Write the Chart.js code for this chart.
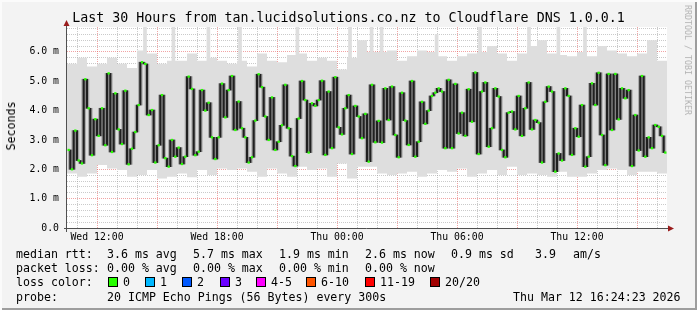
<!DOCTYPE html>
<html>
<head>
<meta charset="utf-8">
<script src="https://cdn.jsdelivr.net/npm/chart.js@4.4.1/dist/chart.umd.min.js"></script>
<style>
  body { margin: 0; background: #fff; }
  #frame {
    position: relative; width: 697px; height: 310px; overflow: hidden;
    background: #f3f3f3; color: #000;
    box-shadow: inset 2px 2px 0 #fbfbfb, inset -2px -2px 0 #9d9d9d;
    font-family: "DejaVu Sans Mono", monospace;
  }
  #chart { position: absolute; left: 0; top: 0; }
  .t { position: absolute; white-space: pre; font-size: 11.6px; line-height: 14px; }
  #title { position: absolute; left: 0; width: 697px; top: 10px; text-align: center; font-size: 13.3px; line-height: 16px; white-space: pre; }
  #ylabel { position: absolute; left: 11px; top: 126px; transform: translate(-50%, -50%) rotate(-90deg); font-size: 11.6px; white-space: pre; }
  #credit { position: absolute; left: 688px; top: 60px; transform: translate(-50%, -50%) rotate(90deg); font-size: 8.3px; color: #b3b3b3; white-space: pre; }
  .box { position: absolute; width: 8px; height: 8px; border: 1px solid #000; top: 277px; }
</style>
</head>
<body>
<div id="frame">
  <canvas id="chart" width="697" height="310"></canvas>
  <div id="title">Last 30 Hours from tan.lucidsolutions.co.nz to Cloudflare DNS 1.0.0.1</div>
  <div id="ylabel">Seconds</div>
  <div id="credit">RRDTOOL / TOBI OETIKER</div>
  <div id="legend"></div>
</div>
<script>
// median rtt (ms), one value per 10 minutes from Wed 10:30
const medianMs = [
  2.66, 2.0, 3.32, 2.30, 2.2, 5.07, 4.08, 2.48, 3.71, 3.14,
  4.08, 2.82, 5.27, 2.59, 4.59, 3.36, 2.86, 4.68, 2.17, 2.7,
  3.27, 4.19, 5.65, 5.59, 3.85, 4.02, 2.23, 2.82, 4.53, 2.38,
  2.09, 3.0, 2.43, 2.74, 2.18, 2.43, 5.16, 4.74, 2.48, 2.6,
  4.70, 4.0, 4.27, 3.09, 2.35, 3.09, 4.92, 3.77, 4.70, 5.18,
  3.34, 4.31, 3.4, 3.09, 2.23, 2.41, 3.66, 5.24, 4.8, 3.8,
  3.0, 4.45, 2.66, 2.94, 3.5, 4.88, 3.4, 2.45, 2.11, 3.73,
  5.01, 4.36, 2.57, 4.25, 4.16, 4.36, 5.02, 2.49, 4.65, 2.72,
  5.14, 3.43, 3.19, 4.08, 4.53, 2.52, 4.16, 3.8, 3.06, 3.89,
  2.26, 4.88, 2.92, 3.65, 2.91, 4.76, 3.68, 4.82, 3.17, 2.41,
  4.61, 3.66, 2.83, 5.01, 2.43, 2.94, 4.3, 3.55, 4.0, 4.5,
  4.61, 4.76, 4.65, 2.72, 5.05, 2.72, 4.91, 3.22, 3.93, 3.14,
  4.73, 3.62, 5.30, 2.52, 4.65, 4.96, 2.77, 3.40, 4.76, 4.48,
  2.66, 2.41, 3.93, 3.97, 3.36, 4.50, 3.14, 4.08, 4.96, 3.36,
  3.68, 3.59, 2.23, 4.30, 4.82, 4.65, 1.92, 2.54, 2.3, 4.76,
  4.5, 2.49, 3.40, 3.11, 4.19, 2.09, 2.43, 4.93, 4.19, 5.29,
  3.17, 2.14, 5.25, 3.34, 5.25, 3.7, 4.76, 4.42, 4.7, 2.11,
  3.85, 2.64, 5.18, 2.43, 3.09, 2.72, 3.51, 3.45, 3.14, 2.57
];

// smoke envelope per 30 minutes (ms)
const smokeLo = [
  1.86, 1.75, 1.86, 2.15, 2.03, 1.98, 1.75, 1.81, 1.98, 1.69,
  1.75, 1.86, 1.73, 1.98, 1.81, 2.03, 1.98, 2.03, 1.92, 1.75,
  2.03, 1.86, 1.75, 2.09, 1.98, 2.03, 1.75, 2.2, 1.69, 2.09,
  2.09, 1.86, 1.81, 1.86, 1.92, 1.75, 1.86, 1.98, 1.92, 2.03,
  1.75, 1.86, 1.98, 1.81, 2.09, 1.81, 1.86, 1.81, 1.75, 1.92,
  1.75, 1.75, 1.86, 1.98, 2.03, 1.98, 1.81, 1.92, 1.92, 1.86
];
const smokeHi = [
  5.6, 5.8, 5.5, 5.6, 5.8, 5.6, 5.45, 6.05, 5.95, 5.6,
  5.7, 5.7, 5.95, 5.7, 5.8, 5.7, 5.6, 5.7, 5.5, 5.95,
  5.7, 5.65, 5.9, 5.95, 5.7, 5.8, 5.7, 5.4, 5.8, 6.4,
  6.0, 6.0, 6.05, 5.7, 5.85, 6.05, 6.0, 5.85, 5.7, 5.85,
  5.95, 6.0, 6.2, 5.95, 5.7, 5.95, 6.2, 6.4, 5.95, 5.9,
  5.85, 6.0, 5.85, 6.2, 6.05, 5.95, 5.85, 5.95, 6.4, 5.7
];

// narrow smoke spikes (hours after Wed 10:30, top in ms)
const spikeHour = [3.9, 5.32, 7.07, 8.65, 11.52, 14.15, 15.23, 15.73, 18.48, 20.65, 23.1, 24.57, 25.9];
const spikeTop = [6.85, 6.85, 6.85, 6.85, 6.85, 6.85, 6.85, 6.85, 6.6, 6.85, 6.85, 6.85, 6.85];

const xTickHours = [1.5, 7.5, 13.5, 19.5, 25.5];
const xTickLabels = ["Wed 12:00", "Wed 18:00", "Thu 00:00", "Thu 06:00", "Thu 12:00"];
const yTickLabels = ["0.0", "1.0 m", "2.0 m", "3.0 m", "4.0 m", "5.0 m", "6.0 m"];

const startClock = 10.5; // Wed 10:30

// legend rows
const legendRows = [
  [[16, "median rtt:"], [107, "3.6 ms avg"], [193, "5.7 ms max"], [279, "1.9 ms min"], [365, "2.6 ms now"], [451, "0.9 ms sd"], [535, "3.9"], [573, "am/s"]],
  [[16, "packet loss:"], [107, "0.00 % avg"], [193, "0.00 % max"], [279, "0.00 % min"], [365, "0.00 % now"]],
  [[16, "loss color:"]],
  [[16, "probe:"], [107, "20 ICMP Echo Pings (56 Bytes) every 300s"], [513, "Thu Mar 12 16:24:23 2026"]]
];
const lossLabels = ["0", "1", "2", "3", "4-5", "6-10", "11-19", "20/20"];
const lossColors = ["#26ff00", "#00b8ff", "#0059ff", "#6a00ff", "#ff00ff", "#ff5500", "#ff0000", "#a10000"];
const lossBoxX = [108, 145, 182, 220, 256, 306, 365, 430];

// build legend
var legend = document.getElementById("legend");
legendRows.forEach(function (row, r) {
  row.forEach(function (item) {
    var s = document.createElement("div");
    s.className = "t";
    s.style.left = item[0] + "px";
    s.style.top = (247 + r * 14.2) + "px";
    s.textContent = item[1];
    legend.appendChild(s);
  });
});
lossLabels.forEach(function (lab, i) {
  var b = document.createElement("div");
  b.className = "box";
  b.style.left = lossBoxX[i] + "px";
  b.style.background = lossColors[i];
  legend.appendChild(b);
  var s = document.createElement("div");
  s.className = "t";
  s.style.left = (lossBoxX[i] + 15) + "px";
  s.style.top = (247 + 2 * 14.2) + "px";
  s.textContent = lab;
  legend.appendChild(s);
});

// chart data
const medianPts = medianMs.map((v, i) => ({ x: (i * 10 + 5) / 60, y: v }));
// vertical joins between consecutive medians
const joinPts = medianMs.slice(1).map((v, i) => ({
  x: (i + 1) * 10 / 60,
  y: [Math.min(medianMs[i], v), Math.max(medianMs[i], v)]
}));
const hiPts = smokeHi.map((v, i) => ({ x: i * 0.5, y: v }));
hiPts.push({ x: 30, y: smokeHi[smokeHi.length - 1] });
const loPts = smokeLo.map((v, i) => ({ x: i * 0.5, y: v }));
loPts.push({ x: 30, y: smokeLo[smokeLo.length - 1] });
const spikePts = spikeHour.map((h, i) => ({ x: h, y: [4.8, spikeTop[i]] }));

const isWhole = (v) => Math.abs(v - Math.round(v)) < 1e-6;
const RED = "rgba(230,90,90,0.55)";
const GRAY = "rgba(150,150,150,0.5)";

const plotDeco = {
  id: "plotDeco",
  beforeDraw(chart) {
    const { ctx, chartArea: a } = chart;
    ctx.save();
    ctx.fillStyle = "#ffffff";
    ctx.fillRect(a.left, a.top, a.right - a.left, a.bottom - a.top);
    ctx.restore();
  },
  afterDraw(chart) {
    const { ctx, chartArea: a } = chart;
    ctx.save();
    ctx.strokeStyle = "#505050";
    ctx.lineWidth = 1;
    ctx.beginPath();
    ctx.moveTo(a.left - 0.5, a.bottom + 4);
    ctx.lineTo(a.left - 0.5, a.top - 3);
    ctx.moveTo(a.left - 3, a.bottom + 0.5);
    ctx.lineTo(a.right + 2, a.bottom + 0.5);
    ctx.stroke();
    ctx.fillStyle = "#9a1c1c";
    ctx.beginPath();
    ctx.moveTo(a.left - 0.5, a.top - 7);
    ctx.lineTo(a.left - 3.5, a.top - 1);
    ctx.lineTo(a.left + 2.5, a.top - 1);
    ctx.closePath();
    ctx.fill();
    ctx.beginPath();
    ctx.moveTo(a.right + 7, a.bottom + 0.5);
    ctx.lineTo(a.right + 1, a.bottom - 2.5);
    ctx.lineTo(a.right + 1, a.bottom + 3.5);
    ctx.closePath();
    ctx.fill();
    ctx.restore();
  }
};

const chartElement = document.getElementById("chart");
new Chart(chartElement, {
  type: "line",
  data: {
    datasets: [
      {
        label: "median",
        data: medianPts,
        order: 0,
        showLine: false,
        pointStyle: "rect",
        pointRadius: 1.6,
        pointBorderWidth: 0,
        pointBackgroundColor: "#26ff00"
      },
      {
        type: "bar",
        label: "median joins",
        data: joinPts,
        order: 1,
        grouped: false,
        barThickness: 1.5,
        backgroundColor: "#202020",
        borderWidth: 0
      },
      {
        type: "bar",
        label: "median smoke",
        data: joinPts,
        order: 2,
        grouped: false,
        barThickness: 4,
        backgroundColor: "rgba(60,60,60,0.3)",
        borderWidth: 0
      },
      {
        type: "bar",
        label: "spikes",
        data: spikePts,
        order: 3,
        grouped: false,
        barThickness: 3,
        backgroundColor: "#dedede",
        borderWidth: 0
      },
      {
        label: "smoke hi",
        data: hiPts,
        order: 4,
        stepped: "before",
        borderWidth: 0,
        pointRadius: 0,
        backgroundColor: "#dedede",
        fill: "+1"
      },
      {
        label: "smoke lo",
        data: loPts,
        order: 5,
        stepped: "before",
        borderWidth: 0,
        pointRadius: 0
      }
    ]
  },
  options: {
    responsive: false,
    animation: false,
    devicePixelRatio: 1,
    layout: { padding: { top: 27, right: 30, left: 0, bottom: 0 } },
    plugins: { legend: { display: false }, tooltip: { enabled: false } },
    scales: {
      x: {
        type: "linear",
        min: 0,
        max: 30,
        offset: false,
        z: 1,
        afterBuildTicks: (scale) => {
          const t = [];
          for (let h = 0.5; h < 30; h += 1) t.push({ value: h });
          scale.ticks = t;
        },
        afterFit: (scale) => { scale.height = 82; },
        border: { display: false, dash: [1, 1] },
        grid: {
          offset: false,
          drawTicks: false,
          color: (c) => {
            if (!c.tick) return GRAY;
            return (startClock + c.tick.value) % 3 === 0 ? RED : GRAY;
          }
        },
        ticks: {
          autoSkip: false,
          maxRotation: 0,
          padding: 4,
          color: "#000",
          font: { family: "DejaVu Sans Mono", size: 9.8 },
          callback: (v) => {
            const k = xTickHours.indexOf(v);
            return k >= 0 ? xTickLabels[k] : "";
          }
        }
      },
      y: {
        min: 0,
        max: 6.85,
        z: 1,
        afterBuildTicks: (scale) => {
          const t = [];
          for (let k = 0; k <= 34; k++) t.push({ value: k * 0.2 });
          scale.ticks = t;
        },
        afterFit: (scale) => { scale.width = 67; },
        border: { display: false, dash: [1, 1] },
        grid: {
          drawTicks: false,
          color: (c) => {
            if (!c.tick) return GRAY;
            const v = c.tick.value;
            if (v === 0) return "rgba(0,0,0,0)";
            return isWhole(v) ? RED : GRAY;
          }
        },
        ticks: {
          autoSkip: false,
          padding: 8,
          color: "#000",
          font: { family: "DejaVu Sans Mono", size: 9.8 },
          callback: (v) => (isWhole(v) ? yTickLabels[Math.round(v)] : "")
        }
      }
    }
  },
  plugins: [plotDeco]
});
</script>
</body>
</html>
